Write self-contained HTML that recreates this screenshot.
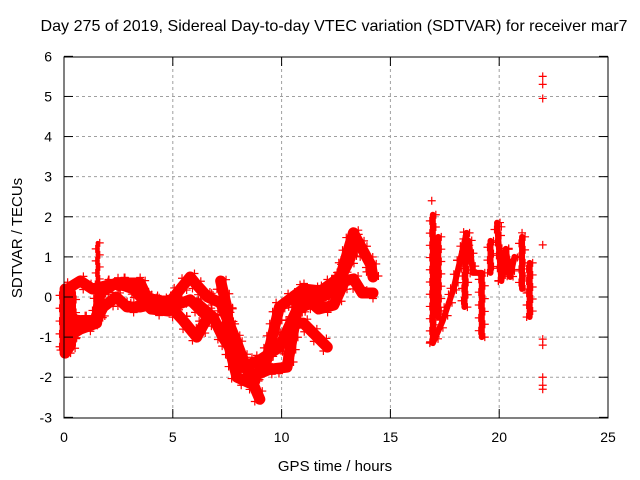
<!DOCTYPE html>
<html><head><meta charset="utf-8">
<style>
body{margin:0;background:#fff;}
svg{display:block;font-family:"Liberation Sans",sans-serif;}
</style></head>
<body>
<svg id="chart" width="640" height="480" viewBox="0 0 640 480">
<rect width="640" height="480" fill="#fff"/>
<g id="grid"></g>
<g id="marks"></g>
<rect x="64" y="57" width="544" height="361" fill="none" stroke="#000" stroke-width="1"/>
<g id="ticks"></g>
<text x="334" y="31" text-anchor="middle" font-size="16" textLength="587" lengthAdjust="spacingAndGlyphs" fill="#000">Day 275 of 2019, Sidereal Day-to-day VTEC variation (SDTVAR) for receiver mar7</text>
<text x="335" y="471" text-anchor="middle" font-size="15" fill="#000">GPS time / hours</text>
<text transform="translate(22,238) rotate(-90)" text-anchor="middle" font-size="15" fill="#000">SDTVAR / TECUs</text>
</svg>
<script>
const xTicks=[0,5,10,15,20,25];
const yTicks=[-3,-2,-1,0,1,2,3,4,5,6];
// continuous tracks [hour, value]
const trackA=[[0.3,0.25],[0.75,0.4],[1.3,0.2],[2.1,0.3],[2.8,0.35],[3.5,0.35],[3.8,0],[4.3,-0.1],[4.9,-0.1],[5.8,0.5],[6.1,0.3],[6.6,0],[7.2,-0.15],[7.95,-1.15],[8.4,-1.8],[9.0,-2.55]];
const trackB=[[0.4,-0.57],[1.0,-0.6],[1.5,-0.57],[1.8,-0.25],[2.4,0],[2.9,-0.25],[3.5,-0.25],[4.3,-0.15],[4.9,-0.25],[5.45,-0.57],[6.1,-1.0],[6.6,-0.5],[5.8,-0.07],[4.9,-0.25]];
const trackC=[[0.15,-1.0],[0.75,-0.8],[1.5,-0.65],[1.65,0.1],[2.4,0.35],[3.2,0.2],[4.0,-0.3],[4.8,-0.35]];
const trackD=[[7.2,0.4],[7.5,-0.3],[7.6,-1.25],[7.95,-2.0],[8.55,-2.15],[9.3,-1.6],[9.9,-0.25],[11.0,0.2],[11.8,0.15],[12.7,0.5],[13.3,1.6],[13.7,1.2],[14.1,0.8],[14.2,0.5]];
const trackE=[[6.1,-0.15],[6.85,-0.5],[7.3,-1.0],[8.2,-1.75],[9.0,-1.57],[9.9,-1.25],[10.7,-0.32],[11.5,-0.1],[12.4,0.15],[13.1,0.9],[13.4,1.4]];
const trackF=[[8.6,-2.0],[9.45,-1.8],[10.25,-1.75],[10.85,0.1],[11.7,-0.3],[12.4,-0.2],[12.9,0.4],[13.3,0.45],[13.7,0.1],[14.2,0.1]];
const trackG=[[11.0,-0.65],[12.1,-1.25]];
const trackH=[[0.05,0.2],[0.05,-1.4],[0.3,-1.2],[0.3,0.1]];
const spike1=[[1.55,0.3],[1.55,1.35]];
// right-hand segments (vertical columns / bands)
const trackR1=[[16.95,2.05],[16.95,-1.15],[17.4,-0.6],[17.9,0.2],[18.2,0.9],[18.5,1.6],[18.4,-0.25]];
const trackR2=[[17.2,1.5],[17.2,-0.5]];
const trackR3=[[18.6,1.4],[18.8,0.6],[19.2,0.6],[19.2,-1.0]];
const trackR4=[[19.6,1.4],[19.6,0.6]];
const trackR5=[[19.9,1.85],[20.1,0.4],[20.3,1.2],[20.5,0.5],[20.7,1.0]];
const trackR6=[[21.05,1.5],[21.05,0.2]];
const trackR7=[[21.4,0.85],[21.4,-0.5]];
// isolated points
const pointsT=[16.9,22.0,22.0,22.0,22.0,22.0,22.0,22.0,22.0,22.0,21.05,19.6,20.1];
const pointsV=[2.4,5.5,5.3,4.95,1.3,-1.05,-1.2,-2.0,-2.2,-2.3,1.6,1.3,1.75];

const X=t=>64+t*544/25;
const Y=v=>297-v*361/9;
const NS='http://www.w3.org/2000/svg';
const grid=document.getElementById('grid'),ticks=document.getElementById('ticks'),marks=document.getElementById('marks');
function mk(tag,attrs,parent){const e=document.createElementNS(NS,tag);for(const k in attrs)e.setAttribute(k,attrs[k]);parent.appendChild(e);return e;}
xTicks.forEach(t=>{
  const x=X(t);
  if(t>0&&t<25){const g=mk('line',{x1:x,y1:57,x2:x,y2:418,stroke:'#a0a0a0','stroke-dasharray':'3,3'},grid);
  
  }
  mk('line',{x1:x,y1:418,x2:x,y2:409,stroke:'#000'},ticks);
  mk('line',{x1:x,y1:57,x2:x,y2:66,stroke:'#000'},ticks);
  const lb=mk('text',{x:x,y:442,'text-anchor':'middle','font-size':14},ticks);lb.textContent=t;
  
  
});
yTicks.forEach(v=>{
  const y=Y(v);
  if(v>-3&&v<6){const g=mk('line',{x1:64,y1:y,x2:608,y2:y,stroke:'#a0a0a0','stroke-dasharray':'3,3'},grid);
  
  }
  mk('line',{x1:64,y1:y,x2:73,y2:y,stroke:'#000'},ticks);
  mk('line',{x1:608,y1:y,x2:599,y2:y,stroke:'#000'},ticks);
  const lb=mk('text',{x:52,y:y+5,'text-anchor':'end','font-size':14},ticks);lb.textContent=v;
  
  
});
function plusXY(x,y){
  const p=mk('path',{d:`M${x-4},${y}h8M${x},${y-4}v8`,stroke:'#f00','stroke-width':1.2,fill:'none'},marks);
  
  
}
function plus(t,v){plusXY(X(t),Y(v));}
function track(arr,w){
  const pl=mk('polyline',{points:arr.map(p=>X(p[0])+','+Y(p[1])).join(' '),fill:'none',stroke:'#f00','stroke-width':w,'stroke-linejoin':'round','stroke-linecap':'round'},marks);
  
  
  // texture: markers along the edges of each segment
  for(let i=1;i<arr.length;i++){
    const x0=X(arr[i-1][0]),y0=Y(arr[i-1][1]),x1=X(arr[i][0]),y1=Y(arr[i][1]);
    const L=Math.hypot(x1-x0,y1-y0)||1,nx=-(y1-y0)/L,ny=(x1-x0)/L,n=Math.floor(L/6);
    for(let k=0;k<=n;k++){const f=k/(n||1),s=(k%2?1:-1)*w/2;
      plusXY(x0+(x1-x0)*f+nx*s,y0+(y1-y0)*f+ny*s);}
  }
}
[trackA,trackB,trackC,trackD,trackE,trackF,trackG,trackH].forEach(a=>track(a,11));
track(spike1,4);
[trackR1,trackR2,trackR3,trackR4,trackR5,trackR6,trackR7].forEach(a=>track(a,6));
pointsT.forEach((t,i)=>plus(t,pointsV[i]));
</script>
</body></html>
